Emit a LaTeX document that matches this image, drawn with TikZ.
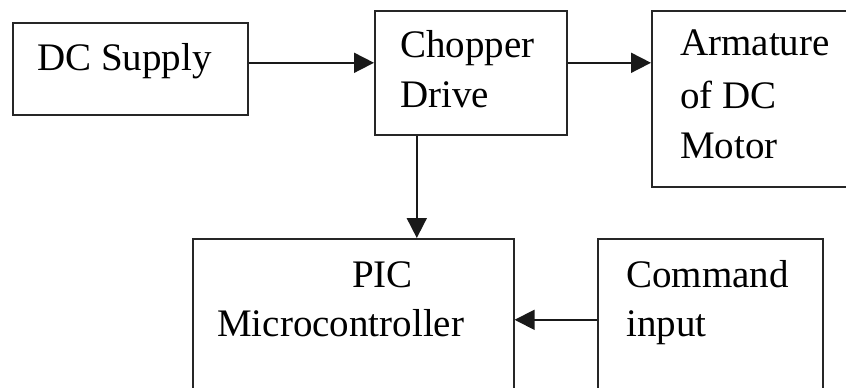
\documentclass[tikz,border=0pt]{standalone}
\usepackage{fontspec}
\setmainfont{Liberation Serif}
\usetikzlibrary{arrows.meta}
\begin{document}
\begin{tikzpicture}[x=1pt,y=1pt,
  blk/.style={draw=black!85, line width=1.6pt, rectangle, inner sep=0pt, anchor=north west},
  lbl/.style={anchor=base west, inner sep=0pt, font=\fontsize{39}{50}\selectfont},
  arr/.style={draw=black!90, line width=1.8pt, -{Triangle[length=20pt,width=20pt]}}]
\useasboundingbox (0,0) rectangle (846,-388);
% boxes
\node[blk, minimum width=235pt, minimum height=92pt] (sup) at (12,-22) {};
\node[blk, minimum width=192pt, minimum height=124pt] (chop) at (374,-10) {};
\node[blk, minimum width=210pt, minimum height=176pt] (arm) at (651,-10) {};
\node[blk, minimum width=321pt, minimum height=150pt] (pic) at (192,-238) {};
\node[blk, minimum width=225pt, minimum height=150pt] (cmd) at (597,-238) {};
% labels
\node[lbl] (t1) at (37,-70) {DC Supply};
\node[lbl] (t2a) at (400,-57) {Chopper};
\node[lbl] (t2b) at (400,-107) {Drive};
\node[lbl] (t3a) at (680,-55) {Armature};
\node[lbl] (t3b) at (680,-108) {of DC};
\node[lbl] (t3c) at (680,-158) {Motor};
\node[lbl] (t4a) at (352,-287) {PIC};
\node[lbl] (t4b) at (217,-336) {Microcontroller};
\node[lbl] (t5a) at (626,-287) {Command};
\node[lbl] (t5b) at (626,-336) {input};
% connectors
\coordinate (a1) at ([yshift=6pt]sup.east);
\draw[arr] (a1) -- (a1 -| chop.west);
\coordinate (a2) at ([yshift=10pt]chop.east);
\draw[arr] (a2) -- (a2 -| arm.west);
\coordinate (a3) at ([xshift=-54pt]chop.south);
\draw[arr] (a3) -- (a3 |- pic.north);
\coordinate (a4) at ([yshift=-6pt]cmd.west);
\draw[arr] (a4) -- (a4 -| pic.east);
\end{tikzpicture}
\end{document}
